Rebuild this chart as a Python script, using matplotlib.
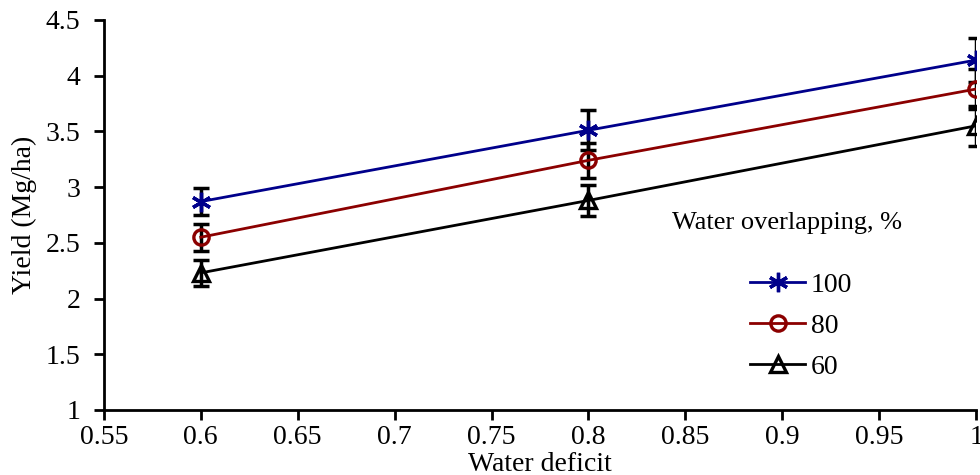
import matplotlib.pyplot as plt

plt.rcParams['font.family'] = ['Liberation Serif', 'DejaVu Serif']

deficit = [0.6, 0.8, 1.0]
labels = ['100', '80', '60']
yield_100 = [2.87, 3.51, 4.14]
yield_80 = [2.55, 3.24, 3.88]
yield_60 = [2.23, 2.88, 3.55]
err_100 = [0.12, 0.18, 0.20]
err_80 = [0.12, 0.16, 0.18]
err_60 = [0.12, 0.14, 0.18]

series = [yield_100, yield_80, yield_60]
errors = [err_100, err_80, err_60]
colors = ['#00008B', '#8B0000', '#000000']
markers = [(6, 2, 0), 'o', '^']
msizes = [14, 11, 11]

fig = plt.figure(figsize=(9.8, 4.75), dpi=100)
ax = fig.add_axes([0.106, 0.137, 0.89, 0.821])

handles = []
for y, e, c, m, ms, lab in zip(series, errors, colors, markers, msizes, labels):
    ax.errorbar(deficit, y, yerr=e, fmt='none', ecolor='black', elinewidth=2.5,
                capsize=6, capthick=2.5, zorder=2)
    h, = ax.plot(deficit, y, color=c, lw=2, marker=m, markersize=ms,
                 markerfacecolor='none', markeredgecolor=c, markeredgewidth=2.4,
                 label=lab, zorder=3)
    handles.append(h)

ax.set_xlim(0.55, 1.0)
ax.set_ylim(1, 4.5)
ax.set_xticks([0.55, 0.6, 0.65, 0.7, 0.75, 0.8, 0.85, 0.9, 0.95, 1.0])
ax.set_xticklabels(['0.55', '0.6', '0.65', '0.7', '0.75', '0.8', '0.85', '0.9', '0.95', '1'])
ax.set_yticks([1, 1.5, 2, 2.5, 3, 3.5, 4, 4.5])
ax.set_yticklabels(['1', '1.5', '2', '2.5', '3', '3.5', '4', '4.5'])
ax.spines['top'].set_visible(False)
ax.spines['right'].set_visible(False)
for s in ['left', 'bottom']:
    ax.spines[s].set_linewidth(2)
ax.tick_params(axis='both', labelsize=20, width=2, length=7, direction='out')
ax.tick_params(axis='y', pad=10)
ax.tick_params(axis='x', pad=4)
ax.set_xlabel('Water deficit', fontsize=20, labelpad=1)
ax.set_ylabel('Yield (Mg/ha)', fontsize=20, labelpad=6)

ax.text(0.783, 0.479, 'Water overlapping, %', transform=ax.transAxes,
        ha='center', va='center', fontsize=19)
ax.legend(handles=handles, loc='center left', bbox_to_anchor=(0.712, 0.215),
          frameon=False, fontsize=20, handlelength=2.0, numpoints=1,
          labelspacing=0.55, handletextpad=0.2)

fig.savefig('out.png', dpi=100)
